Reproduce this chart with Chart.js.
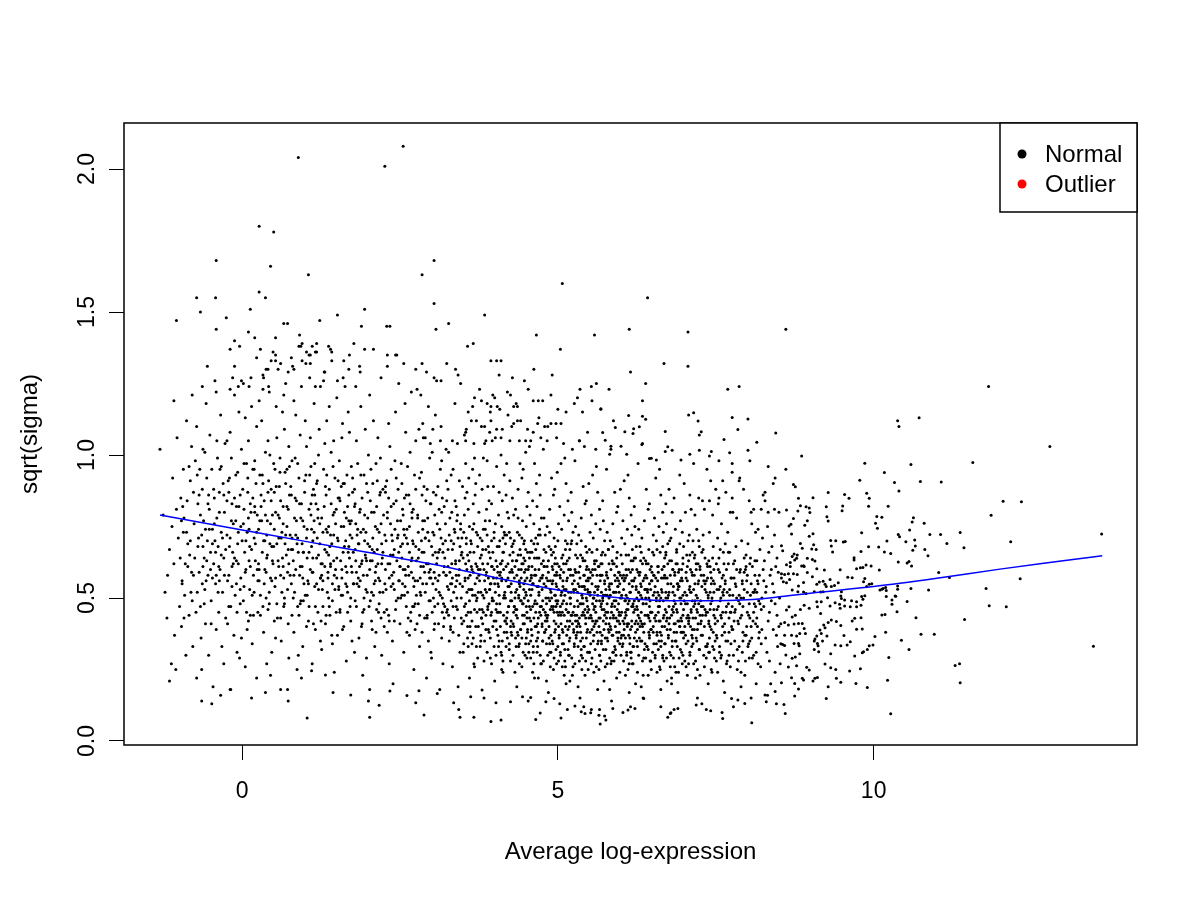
<!DOCTYPE html>
<html>
<head>
<meta charset="utf-8">
<script src="https://cdn.jsdelivr.net/npm/chart.js@4.4.1/dist/chart.umd.min.js"></script>
<style>
  html, body { margin: 0; padding: 0; background: #fff; }
  canvas { display: block; }
</style>
</head>
<body>
<canvas id="saPlot" width="1200" height="900"></canvas>
<script>
// axis ticks
var xTicks = [0, 5, 10];
var yTicks = [0, 0.5, 1.0, 1.5, 2.0];

// genes by average log-expression band, [AveExpr, sqrt(sigma)]
var lowExprGenes = [
  [-1.30,1.02],[-1.08,1.19],[-1.03,1.06],[-0.93,0.95],[-1.15,0.67],[-1.08,0.62],[-1.19,0.43],[-1.07,0.37],[-1.12,0.27],[-1.05,0.25],[-1.15,0.21],[-0.92,0.78],[-0.97,0.85],[-0.87,0.84],[-1.11,0.75],[-1.22,0.52],[-1.18,0.58],[-1.01,0.71],[-0.95,0.55],[-0.99,0.47],[-0.90,0.62],[-0.86,0.69],[-0.82,0.91],[-0.80,1.03],[-0.84,0.44],[-0.78,0.33],[-0.89,0.30],[-0.93,0.73],[-1.04,0.81],[-0.77,0.58],[-0.81,0.52],[-0.76,0.76],[-0.88,1.12],[-0.79,1.21],[-1.25,0.79],[-1.10,0.92],[-0.96,0.40],[-0.83,0.65],
  [-0.74,0.98],[-0.72,1.10],[-0.70,0.83],[-0.69,0.71],[-0.68,0.59],[-0.66,0.47],[-0.65,0.36],[-0.64,0.25],[-0.63,0.88],[-0.62,1.02],[-0.61,0.77],[-0.60,0.64],[-0.59,0.53],[-0.58,0.41],[-0.57,1.18],[-0.56,0.92],[-0.55,0.70],[-0.54,0.58],[-0.53,0.30],[-0.52,0.81],[-0.51,1.07],[-0.50,0.66],[-0.49,0.49],[-0.48,0.95],[-0.47,0.74],[-0.46,0.19],[-0.45,0.62],[-0.44,0.85],[-0.43,1.26],[-0.42,0.55],[-0.41,0.39],[-0.40,0.78],[-0.39,0.99],[-0.38,0.68],[-0.37,0.45],[-0.36,0.87],[-0.35,0.60],[-0.34,1.14],[-0.33,0.73],[-0.32,0.33],[-0.31,0.52],[-0.30,0.90],[-0.29,0.64],[-0.28,0.80],[-0.27,1.04],[-0.26,0.43],[-0.71,0.52],[-0.67,0.95],[-0.58,0.74],[-0.53,0.86],[-0.47,0.57],[-0.43,0.70],[-0.37,0.61],[-0.33,0.96],[-0.29,0.27],[-0.64,0.14],[-0.41,1.22],[-0.55,1.31],[-0.36,0.56],[-0.62,0.68],
  [-0.24,0.72],[-0.22,0.91],[-0.21,0.58],[-0.19,1.08],[-0.18,0.47],[-0.16,0.83],[-0.15,0.66],[-0.13,0.37],[-0.12,1.21],[-0.10,0.77],[-0.09,0.55],[-0.07,0.94],[-0.06,0.62],[-0.04,0.29],[-0.03,0.86],[-0.01,1.02],[0.00,0.70],[0.02,0.49],[0.03,0.81],[0.05,1.13],[0.06,0.60],[0.08,0.39],[0.09,0.92],[0.11,0.74],[0.12,0.53],[0.14,1.27],[0.15,0.67],[0.17,0.85],[0.18,0.44],[0.20,0.98],[0.21,0.63],[0.23,0.22],[0.24,0.79],[-0.23,0.41],[-0.20,0.68],[-0.17,0.99],[-0.14,0.76],[-0.11,0.51],[-0.08,0.31],[-0.05,1.15],[-0.02,0.57],[0.01,0.88],[0.04,0.66],[0.07,0.45],[0.10,1.05],[0.13,0.83],[0.16,0.34],[0.19,0.71],[0.22,0.90],[0.25,0.56],[-0.21,0.87],[-0.16,0.61],[-0.09,0.82],[-0.03,0.48],[0.03,0.97],[0.08,0.73],[0.13,0.61],[0.19,0.52],[0.23,1.10],[-0.18,0.18],[0.05,0.26],[0.15,1.17],[-0.12,0.64],[0.10,0.42],[-0.06,0.73],[0.20,0.80],[-0.24,1.05],[0.02,1.25],[0.17,0.95],[-0.01,0.36],
  [0.26,0.74],[0.28,0.93],[0.29,0.51],[0.31,1.12],[0.32,0.66],[0.34,0.38],[0.35,0.84],[0.37,1.01],[0.38,0.59],[0.40,0.77],[0.41,0.46],[0.43,1.22],[0.44,0.69],[0.46,0.88],[0.47,0.31],[0.49,0.62],[0.50,0.97],[0.52,0.54],[0.53,0.80],[0.55,1.06],[0.56,0.43],[0.58,0.71],[0.59,0.89],[0.61,0.58],[0.62,0.35],[0.64,1.15],[0.65,0.76],[0.67,0.50],[0.68,0.94],[0.70,0.65],[0.71,0.82],[0.73,0.41],[0.74,1.03],[0.27,0.60],[0.30,0.82],[0.33,1.28],[0.36,0.70],[0.39,0.27],[0.42,0.91],[0.45,0.57],[0.48,0.79],[0.51,0.42],[0.54,1.17],[0.57,0.63],[0.60,0.99],[0.63,0.73],[0.66,0.47],[0.69,1.25],[0.72,0.59],[0.75,0.86],[0.29,0.44],[0.35,0.55],[0.41,1.05],[0.47,0.68],[0.53,0.36],[0.59,0.78],[0.65,0.61],[0.71,0.95],[0.33,0.90],[0.39,0.64],[0.45,0.23],[0.51,0.87],[0.57,1.30],[0.63,0.52],[0.69,0.72],[0.74,0.29],[0.31,0.77],[0.43,0.48],[0.55,0.69],[0.67,1.09],[0.37,0.17],[0.49,1.36],[0.61,0.84],[0.73,0.67],[0.27,1.19],
  [0.76,0.72],[0.78,0.55],[0.79,0.98],[0.81,0.63],[0.82,0.38],[0.84,0.85],[0.85,1.14],[0.87,0.69],[0.88,0.47],[0.90,0.92],[0.91,0.58],[0.93,0.78],[0.94,1.24],[0.96,0.33],[0.97,0.66],[0.99,0.87],[1.00,0.51],[1.02,1.03],[1.03,0.74],[1.05,0.42],[1.06,0.81],[1.08,0.60],[1.09,0.96],[1.11,0.27],[1.12,0.70],[1.14,1.18],[1.15,0.54],[1.17,0.83],[1.18,0.64],[1.20,0.45],[1.21,1.00],[1.23,0.76],[1.24,0.57],[0.77,0.89],[0.80,1.31],[0.83,0.52],[0.86,0.77],[0.89,0.30],[0.92,1.07],[0.95,0.61],[0.98,0.75],[1.01,0.93],[1.04,0.56],[1.07,1.27],[1.10,0.68],[1.13,0.88],[1.16,0.39],[1.19,0.71],[1.22,1.09],[1.25,0.62],[0.79,0.44],[0.85,0.60],[0.91,0.83],[0.97,0.49],[1.03,0.64],[1.09,0.79],[1.15,0.97],[1.21,0.53],[0.82,1.19],[0.88,0.71],[0.94,0.22],[1.00,1.12],[1.06,0.47],[1.12,0.59],[1.18,0.90],[1.24,0.35],[0.78,0.67],[0.90,1.38],[1.02,0.40],[1.14,0.73],[0.84,0.99],[0.96,0.57],[1.08,1.06],[1.20,0.81],[1.03,0.08],[0.92,0.48],[1.16,1.36],[0.87,0.25],[1.11,0.86],
  [1.26,0.78],[1.28,0.56],[1.29,0.95],[1.31,0.67],[1.32,0.41],[1.34,1.12],[1.35,0.73],[1.37,0.50],[1.38,0.88],[1.40,0.61],[1.41,1.01],[1.43,0.34],[1.44,0.79],[1.46,0.58],[1.47,0.92],[1.49,0.45],[1.50,1.20],[1.52,0.70],[1.53,0.53],[1.55,0.84],[1.56,0.63],[1.58,1.06],[1.59,0.39],[1.61,0.75],[1.62,0.90],[1.64,0.55],[1.65,0.28],[1.67,0.82],[1.68,1.15],[1.70,0.64],[1.71,0.47],[1.73,0.96],[1.74,0.71],[1.27,0.62],[1.30,1.29],[1.33,0.86],[1.36,0.59],[1.39,0.44],[1.42,0.69],[1.45,1.05],[1.48,0.76],[1.51,0.37],[1.54,0.98],[1.57,0.51],[1.60,0.66],[1.63,1.24],[1.66,0.59],[1.69,0.77],[1.72,0.42],[1.75,0.87],[1.28,0.47],[1.34,0.93],[1.40,0.72],[1.46,0.24],[1.52,0.85],[1.58,0.60],[1.64,0.70],[1.70,1.08],[1.31,1.04],[1.37,0.65],[1.43,0.55],[1.49,0.81],[1.55,0.46],[1.61,1.33],[1.67,0.52],[1.73,0.61],[1.26,0.32],[1.38,1.17],[1.50,0.57],[1.62,0.80],[1.74,0.35],[1.33,0.74],[1.45,0.63],[1.57,0.89],[1.69,0.68],[1.44,0.17],[1.66,0.93],[1.35,0.52],[1.59,1.11],[1.71,0.76],
  [1.76,0.66],[1.78,0.88],[1.79,0.49],[1.81,1.05],[1.82,0.72],[1.84,0.57],[1.85,0.36],[1.87,0.81],[1.88,1.17],[1.90,0.63],[1.91,0.45],[1.93,0.93],[1.94,0.70],[1.96,0.53],[1.97,0.29],[1.99,0.78],[2.00,1.00],[2.02,0.60],[2.03,0.84],[2.05,0.42],[2.06,0.67],[2.08,1.12],[2.09,0.55],[2.11,0.75],[2.12,0.38],[2.14,0.91],[2.15,0.62],[2.17,0.48],[2.18,0.86],[2.20,1.27],[2.21,0.69],[2.23,0.52],[2.24,0.79],[1.77,0.55],[1.80,0.76],[1.83,0.97],[1.86,0.61],[1.89,0.40],[1.92,0.74],[1.95,1.09],[1.98,0.58],[2.01,0.47],[2.04,0.95],[2.07,0.71],[2.10,0.33],[2.13,0.82],[2.16,0.57],[2.19,0.99],[2.22,0.64],[2.25,0.45],[1.78,0.31],[1.84,0.69],[1.90,0.85],[1.96,0.64],[2.02,1.21],[2.08,0.51],[2.14,0.67],[2.20,0.43],[1.81,0.59],[1.87,1.29],[1.93,0.50],[1.99,0.69],[2.05,0.80],[2.11,0.59],[2.17,0.73],[2.23,0.88],[1.79,0.83],[1.91,0.23],[2.03,0.63],[2.15,1.06],[1.85,0.54],[1.97,0.90],[2.09,0.66],[2.21,0.30],[2.00,0.14],[2.18,0.56],[1.88,0.73],[2.12,0.97],[1.94,1.37],[2.06,0.39],
  [2.26,0.72],[2.28,0.53],[2.29,0.91],[2.31,0.62],[2.32,0.44],[2.34,1.03],[2.35,0.76],[2.37,0.58],[2.38,0.35],[2.40,0.83],[2.41,0.67],[2.43,1.15],[2.44,0.49],[2.46,0.71],[2.47,0.88],[2.49,0.56],[2.50,0.41],[2.52,0.97],[2.53,0.64],[2.55,0.79],[2.56,0.31],[2.58,0.60],[2.59,1.08],[2.61,0.74],[2.62,0.52],[2.64,0.86],[2.65,0.66],[2.67,0.45],[2.68,1.22],[2.70,0.70],[2.71,0.57],[2.73,0.93],[2.74,0.39],[2.27,0.60],[2.30,0.80],[2.33,0.27],[2.36,0.95],[2.39,0.55],[2.42,0.74],[2.45,0.63],[2.48,1.25],[2.51,0.50],[2.54,0.69],[2.57,0.85],[2.60,0.47],[2.63,0.61],[2.66,1.01],[2.69,0.78],[2.72,0.54],[2.75,0.68],[2.29,0.46],[2.35,0.65],[2.41,0.42],[2.47,0.72],[2.53,0.90],[2.59,0.58],[2.65,0.37],[2.71,0.81],[2.32,1.11],[2.38,0.70],[2.44,0.84],[2.50,0.61],[2.56,0.74],[2.62,0.96],[2.68,0.59],[2.74,0.48],[2.27,0.87],[2.39,0.20],[2.51,0.77],[2.63,0.43],[2.75,1.05],[2.33,0.57],[2.45,1.35],[2.57,0.51],[2.69,0.64],[2.36,0.82],[2.48,0.66],[2.60,0.71],[2.72,0.25],[2.42,0.98],[2.54,0.55],[2.66,0.83],[2.30,0.38],[2.58,1.18],[2.70,0.47]
];

// denser body of the low-expression band
var lowExprBody = [
  [-0.98,0.64],[-0.94,0.82],[-0.91,0.51],[-0.88,0.73],[-0.84,0.96],[-0.80,0.59],[-0.77,0.87],[-0.73,0.45],[-0.70,0.68],[-0.66,0.79],[-0.63,0.55],[-0.59,1.01],[-0.56,0.63],[-0.52,0.74],[-0.49,0.41],[-0.45,0.88],[-0.42,0.66],[-0.38,0.52],[-0.35,0.95],[-0.31,0.71],[-0.28,0.58],[-0.24,0.84],[-0.21,0.47],[-0.17,0.77],[-0.14,0.62],[-0.10,0.93],[-0.07,0.69],[-0.03,0.53],[-0.96,0.77],[-0.92,0.43],[-0.86,0.61],[-0.82,0.70],[-0.75,0.64],[-0.71,0.93],[-0.64,0.72],[-0.60,0.48],[-0.54,0.83],[-0.50,0.60],[-0.44,0.76],[-0.40,1.05],[-0.33,0.65],[-0.29,0.86],[-0.23,0.56],[-0.19,0.71],[-0.12,0.85],[-0.08,0.45],[-0.02,0.75],[-0.95,0.56],[-0.79,0.49],[-0.68,0.86],[-0.57,0.56],[-0.47,0.69],[-0.36,0.80],[-0.26,0.67],[-0.16,0.54],[-0.05,0.82],[-0.62,0.61],[-0.41,0.58],[-0.20,0.92],[-0.09,0.63],
  [0.02,0.76],[0.05,0.59],[0.09,0.87],[0.12,0.68],[0.16,0.51],[0.19,0.95],[0.23,0.73],[0.26,0.62],[0.30,0.86],[0.33,0.47],[0.37,0.79],[0.40,0.65],[0.44,1.00],[0.47,0.56],[0.51,0.74],[0.54,0.89],[0.58,0.61],[0.61,0.43],[0.65,0.82],[0.68,0.69],[0.72,0.53],[0.75,0.96],[0.79,0.71],[0.82,0.58],[0.86,0.84],[0.89,0.66],[0.93,0.49],[0.96,0.77],[0.99,0.91],[0.03,0.54],[0.07,0.97],[0.11,0.63],[0.14,0.80],[0.18,0.58],[0.21,0.69],[0.25,0.45],[0.28,0.77],[0.32,0.93],[0.36,0.60],[0.39,0.72],[0.43,0.52],[0.46,0.84],[0.50,0.68],[0.53,0.57],[0.57,0.79],[0.60,0.94],[0.64,0.64],[0.67,0.48],[0.71,0.75],[0.74,0.62],[0.78,0.86],[0.81,0.50],[0.85,0.72],[0.88,0.97],[0.92,0.61],[0.95,0.69],[0.98,0.55],[0.06,0.70],[0.13,0.44],[0.20,0.82],[0.27,0.56],[0.34,0.70],[0.41,0.87],[0.48,0.63],[0.55,0.48],[0.62,0.71],[0.69,0.90],[0.76,0.58],[0.83,0.78],[0.90,0.44],[0.97,0.66],[0.10,0.78],[0.24,0.60],[0.38,0.50],[0.52,0.95],[0.66,0.57],[0.80,0.67],[0.94,0.83],[0.45,0.76],[0.73,0.81],
  [1.02,0.71],[1.05,0.55],[1.09,0.83],[1.12,0.64],[1.16,0.47],[1.19,0.91],[1.23,0.69],[1.26,0.58],[1.30,0.82],[1.33,0.44],[1.37,0.75],[1.40,0.62],[1.44,0.96],[1.47,0.53],[1.51,0.71],[1.54,0.85],[1.58,0.57],[1.61,0.40],[1.65,0.78],[1.68,0.66],[1.72,0.50],[1.75,0.92],[1.79,0.67],[1.82,0.55],[1.86,0.80],[1.89,0.62],[1.93,0.46],[1.96,0.73],[1.99,0.87],[1.03,0.51],[1.07,0.93],[1.11,0.59],[1.14,0.77],[1.18,0.55],[1.21,0.65],[1.25,0.42],[1.28,0.73],[1.32,0.89],[1.36,0.57],[1.39,0.68],[1.43,0.49],[1.46,0.80],[1.50,0.64],[1.53,0.54],[1.57,0.75],[1.60,0.90],[1.64,0.61],[1.67,0.45],[1.71,0.72],[1.74,0.59],[1.78,0.82],[1.81,0.47],[1.85,0.69],[1.88,0.93],[1.92,0.58],[1.95,0.65],[1.98,0.52],[1.06,0.66],[1.13,0.41],[1.20,0.78],[1.27,0.53],[1.34,0.66],[1.41,0.83],[1.48,0.60],[1.55,0.45],[1.62,0.68],[1.69,0.86],[1.76,0.55],[1.83,0.74],[1.90,0.41],[1.97,0.63],[1.10,0.74],[1.24,0.57],[1.38,0.47],[1.52,0.91],[1.66,0.54],[1.80,0.63],[1.94,0.79],[1.45,0.72],[1.73,0.77],[1.15,0.86],[1.31,0.61],[1.59,0.51],[1.87,0.56],[1.42,0.37],
  [2.02,0.68],[2.05,0.52],[2.09,0.80],[2.12,0.61],[2.16,0.45],[2.19,0.87],[2.23,0.66],[2.26,0.55],[2.30,0.78],[2.33,0.42],[2.37,0.72],[2.40,0.59],[2.44,0.92],[2.47,0.50],[2.51,0.68],[2.54,0.81],[2.58,0.54],[2.61,0.38],[2.65,0.75],[2.68,0.63],[2.72,0.47],[2.75,0.88],[2.79,0.64],[2.82,0.52],[2.86,0.77],[2.89,0.59],[2.93,0.43],[2.96,0.70],[2.99,0.83],[3.03,0.50],[3.06,0.66],[3.10,0.56],[3.13,0.74],[3.17,0.45],[3.20,0.61],[3.24,0.84],[3.27,0.53],[3.31,0.70],[3.34,0.47],[3.38,0.62],[3.41,0.79],[3.45,0.55],[3.48,0.66],[2.03,0.49],[2.07,0.90],[2.11,0.56],[2.14,0.74],[2.18,0.52],[2.21,0.62],[2.25,0.40],[2.28,0.70],[2.32,0.85],[2.36,0.54],[2.39,0.65],[2.43,0.46],[2.46,0.77],[2.50,0.61],[2.53,0.51],[2.57,0.72],[2.60,0.86],[2.64,0.58],[2.67,0.42],[2.71,0.69],[2.74,0.56],[2.78,0.78],[2.81,0.44],[2.85,0.66],[2.88,0.89],[2.92,0.55],[2.95,0.62],[2.98,0.49],[3.02,0.73],[3.05,0.41],[3.09,0.64],[3.12,0.52],[3.16,0.80],[3.19,0.48],[3.23,0.58],[3.26,0.67],[3.30,0.39],[3.33,0.57],[3.37,0.73],[3.40,0.50],[3.44,0.63],[3.47,0.43],[2.06,0.63],[2.20,0.76],[2.34,0.62],[2.48,0.56],[2.62,0.69],[2.76,0.51],[2.90,0.71],[3.04,0.59],[3.18,0.66],[3.32,0.55],[3.46,0.74],[2.13,0.46],[2.41,0.53],[2.69,0.80],[2.97,0.57],[3.25,0.46],[3.39,0.58],[2.27,0.89],[2.55,0.60],[2.83,0.61]
];

var midExprGenes = [
  [2.76,0.63],[2.78,0.79],[2.79,0.48],[2.81,0.92],[2.82,0.57],[2.84,0.70],[2.85,0.38],[2.87,1.06],[2.88,0.66],[2.90,0.52],[2.91,0.84],[2.93,0.44],[2.94,0.73],[2.96,0.59],[2.97,0.99],[2.99,0.31],[3.00,0.68],[3.02,0.55],[3.03,0.87],[3.05,0.47],[3.06,1.14],[3.08,0.62],[3.09,0.76],[3.11,0.41],[3.12,0.58],[3.14,0.95],[3.15,0.71],[3.17,0.50],[3.18,0.27],[3.20,0.82],[3.21,0.64],[3.23,1.02],[3.24,0.45],[2.77,0.41],[2.80,0.67],[2.83,1.21],[2.86,0.55],[2.89,0.77],[2.92,0.62],[2.95,0.35],[2.98,0.83],[3.01,0.45],[3.04,0.72],[3.07,0.53],[3.10,0.89],[3.13,0.67],[3.16,0.36],[3.19,0.59],[3.22,0.76],[3.25,0.54],[2.78,0.56],[2.84,0.94],[2.90,0.71],[2.96,0.49],[3.02,0.65],[3.08,1.26],[3.14,0.51],[3.20,0.43],[2.81,0.33],[2.87,0.61],[2.93,0.88],[2.99,0.57],[3.05,0.79],[3.11,0.66],[3.17,0.85],[3.23,0.58],[2.80,1.09],[2.92,0.22],[3.04,0.39],[3.16,0.98],[2.86,0.74],[2.98,0.60],[3.10,0.48],[3.22,0.70],[2.95,1.17],[3.07,0.86],[3.19,0.40],[2.83,0.51],[3.13,0.18],[3.01,1.01],[2.89,0.43],[3.24,0.91],[3.06,0.57],[2.94,0.78],[3.18,0.69],[2.79,0.73],[3.12,0.81],[3.00,0.29],[3.21,0.47],[2.85,0.86],
  [3.26,0.61],[3.27,0.44],[3.29,0.78],[3.30,0.55],[3.31,0.93],[3.33,0.67],[3.34,0.38],[3.35,0.52],[3.37,0.84],[3.38,0.63],[3.39,0.47],[3.41,1.04],[3.42,0.71],[3.43,0.58],[3.45,0.31],[3.46,0.76],[3.47,0.50],[3.49,0.89],[3.50,0.64],[3.51,0.42],[3.53,0.57],[3.54,0.97],[3.55,0.69],[3.57,0.36],[3.58,0.81],[3.59,0.53],[3.61,0.66],[3.62,0.45],[3.63,1.12],[3.65,0.74],[3.66,0.59],[3.67,0.27],[3.69,0.86],[3.70,0.62],[3.71,0.49],[3.73,0.72],[3.74,0.40],[3.26,0.88],[3.28,0.35],[3.32,0.62],[3.36,0.74],[3.40,0.56],[3.44,0.91],[3.48,0.41],[3.52,0.79],[3.56,0.60],[3.60,0.22],[3.64,0.53],[3.68,0.99],[3.72,0.57],[3.75,0.80],[3.27,1.01],[3.31,0.49],[3.35,0.69],[3.39,0.82],[3.43,0.37],[3.47,0.65],[3.51,0.73],[3.55,0.44],[3.59,0.92],[3.63,0.61],[3.67,0.76],[3.71,0.33],[3.29,0.59],[3.33,0.26],[3.37,1.18],[3.41,0.46],[3.45,0.68],[3.49,0.54],[3.53,0.85],[3.57,0.65],[3.61,0.40],[3.65,0.95],[3.69,0.51],[3.73,0.68],[3.28,0.72],[3.36,0.43],[3.44,0.60],[3.52,1.07],[3.60,0.75],[3.68,0.46],[3.34,0.95],[3.42,0.19],[3.50,0.31],[3.58,0.57],[3.66,0.83],[3.74,0.60],[3.30,0.40],[3.46,1.25],[3.62,0.70],[3.38,0.54],[3.54,0.48],[3.70,0.90],[3.40,0.77],[3.56,0.87],[3.72,0.50],[3.48,0.71],[3.64,0.34],[3.32,0.80],[3.58,1.15],
  [3.76,0.56],[3.77,0.71],[3.79,0.43],[3.80,0.88],[3.81,0.62],[3.83,0.50],[3.84,0.35],[3.85,0.77],[3.87,0.59],[3.88,0.98],[3.89,0.46],[3.91,0.66],[3.92,0.53],[3.93,0.29],[3.95,0.83],[3.96,0.61],[3.97,0.40],[3.99,0.73],[4.00,0.55],[4.01,1.06],[4.03,0.48],[4.04,0.68],[4.05,0.37],[4.07,0.87],[4.08,0.58],[4.09,0.45],[4.11,0.75],[4.12,0.63],[4.13,0.24],[4.15,0.93],[4.16,0.52],[4.17,0.69],[4.19,0.41],[4.20,0.80],[4.21,0.57],[4.23,0.34],[4.24,0.65],[3.76,0.93],[3.78,0.52],[3.82,0.74],[3.86,0.44],[3.90,0.57],[3.94,1.12],[3.98,0.49],[4.02,0.63],[4.06,0.79],[4.10,0.31],[4.14,0.60],[4.18,0.86],[4.22,0.47],[4.25,0.71],[3.78,0.37],[3.82,0.99],[3.86,0.67],[3.90,0.39],[3.94,0.55],[3.98,0.89],[4.02,0.42],[4.06,0.54],[4.10,1.00],[4.14,0.44],[4.18,0.61],[4.22,0.78],[3.79,0.65],[3.83,0.28],[3.87,0.81],[3.91,0.48],[3.95,0.70],[3.99,0.33],[4.03,0.96],[4.07,0.51],[4.11,0.56],[4.15,0.38],[4.19,0.72],[4.23,0.54],[3.80,0.46],[3.88,0.72],[3.96,0.50],[4.04,0.45],[4.12,0.84],[4.20,0.36],[3.84,1.04],[3.92,0.77],[4.00,0.21],[4.08,0.70],[4.16,0.42],[4.24,0.91],[3.77,0.60],[3.93,0.64],[4.09,0.62],[4.21,1.14],[3.85,0.53],[4.01,0.76],[4.17,0.50],[3.89,0.89],[4.05,0.59],[4.13,0.66],[3.97,1.21],[4.25,0.40],[3.81,0.41],[4.11,0.30],[3.95,0.45],[4.07,0.35],[4.19,0.97],[3.91,0.84],[4.03,0.57],[3.83,0.15],[4.15,0.73],[3.99,0.60],
  [4.26,0.52],[4.27,0.68],[4.29,0.41],[4.30,0.79],[4.31,0.57],[4.33,0.46],[4.34,0.33],[4.35,0.63],[4.37,0.88],[4.38,0.50],[4.39,0.72],[4.41,0.39],[4.42,0.60],[4.43,0.26],[4.45,0.95],[4.46,0.55],[4.47,0.44],[4.49,0.67],[4.50,0.36],[4.51,0.82],[4.53,0.49],[4.54,0.61],[4.55,1.03],[4.57,0.42],[4.58,0.70],[4.59,0.53],[4.61,0.31],[4.62,0.76],[4.63,0.58],[4.65,0.45],[4.66,0.90],[4.67,0.64],[4.69,0.38],[4.70,0.51],[4.71,0.74],[4.73,0.27],[4.74,0.62],[4.26,0.38],[4.28,0.85],[4.32,0.61],[4.36,0.43],[4.40,0.54],[4.44,0.77],[4.48,0.30],[4.52,0.66],[4.56,0.56],[4.60,0.84],[4.64,0.40],[4.68,0.69],[4.72,0.47],[4.75,0.57],[4.27,1.10],[4.31,0.47],[4.35,0.53],[4.39,0.34],[4.43,0.71],[4.47,0.59],[4.51,0.43],[4.55,0.64],[4.59,0.37],[4.63,0.97],[4.67,0.48],[4.71,0.56],[4.28,0.59],[4.32,0.24],[4.36,0.73],[4.40,0.97],[4.44,0.48],[4.48,0.63],[4.52,0.39],[4.56,0.79],[4.60,0.47],[4.64,0.60],[4.68,0.33],[4.72,0.86],[4.29,0.66],[4.37,0.37],[4.45,0.41],[4.53,0.87],[4.61,0.55],[4.69,0.72],[4.33,0.81],[4.41,0.65],[4.49,0.52],[4.57,0.29],[4.65,0.67],[4.73,0.44],[4.30,0.45],[4.38,0.60],[4.46,0.69],[4.54,0.34],[4.62,0.43],[4.70,0.64],[4.34,1.18],[4.42,0.49],[4.50,0.75],[4.58,0.58],[4.66,0.35],[4.74,0.78],[4.35,0.19],[4.51,0.57],[4.67,0.82],[4.43,0.92],[4.59,0.66],[4.75,0.41],[4.31,0.70],[4.47,0.50],[4.63,0.22],[4.55,0.47],[4.39,0.56],[4.71,0.93],[4.27,0.49],[4.61,1.08],[4.45,0.62],[4.53,0.14],[4.69,0.54],[4.37,0.78],[4.57,0.51],[4.49,1.01],
  [4.76,0.49],[4.77,0.63],[4.79,0.38],[4.80,0.72],[4.81,0.54],[4.83,0.43],[4.84,0.30],[4.85,0.59],[4.87,0.81],[4.88,0.46],[4.89,0.67],[4.91,0.35],[4.92,0.56],[4.93,0.25],[4.95,0.88],[4.96,0.51],[4.97,0.41],[4.99,0.62],[5.00,0.33],[5.01,0.76],[5.03,0.45],[5.04,0.57],[5.05,0.97],[5.07,0.39],[5.08,0.65],[5.09,0.49],[5.11,0.28],[5.12,0.70],[5.13,0.53],[5.15,0.42],[5.16,0.84],[5.17,0.60],[5.19,0.36],[5.20,0.48],[5.21,0.69],[5.23,0.23],[5.24,0.58],[4.76,0.35],[4.78,0.78],[4.82,0.57],[4.86,0.40],[4.90,0.50],[4.94,0.71],[4.98,0.27],[5.02,0.61],[5.06,0.52],[5.10,0.79],[5.14,0.37],[5.18,0.64],[5.22,0.44],[5.25,0.53],[4.77,1.02],[4.81,0.44],[4.85,0.50],[4.89,0.31],[4.93,0.66],[4.97,0.55],[5.01,0.40],[5.05,0.60],[5.09,0.34],[5.13,0.90],[5.17,0.45],[5.21,0.52],[4.78,0.55],[4.82,0.21],[4.86,0.68],[4.90,0.92],[4.94,0.45],[4.98,0.59],[5.02,0.36],[5.06,0.74],[5.10,0.44],[5.14,0.56],[5.18,0.30],[5.22,0.80],[4.79,0.61],[4.87,0.34],[4.95,0.38],[5.03,0.82],[5.11,0.51],[5.19,0.67],[4.83,0.75],[4.91,0.61],[4.99,0.48],[5.07,0.26],[5.15,0.63],[5.23,0.41],[4.80,0.42],[4.88,0.56],[4.96,0.64],[5.04,0.31],[5.12,0.40],[5.20,0.60],[4.84,1.10],[4.92,0.46],[5.00,0.70],[5.08,0.54],[5.16,0.32],[5.24,0.73],[4.85,0.17],[5.01,0.53],[5.17,0.77],[4.93,0.86],[5.09,0.62],[5.25,0.38],[4.81,0.66],[4.97,0.47],[5.13,0.20],[5.05,0.44],[4.89,0.52],[5.21,0.87],[4.77,0.46],[5.11,0.99],[4.95,0.58],[5.03,0.13],[5.19,0.50],[4.87,0.73],[5.07,0.48],[4.99,0.94]
];

var coreExprGenes = [
  [5.26,0.47],[5.27,0.60],[5.29,0.36],[5.30,0.69],[5.31,0.52],[5.33,0.41],[5.34,0.28],[5.35,0.57],[5.37,0.78],[5.38,0.44],[5.39,0.64],[5.41,0.33],[5.42,0.54],[5.43,0.23],[5.45,0.84],[5.46,0.49],[5.47,0.39],[5.49,0.60],[5.50,0.31],[5.51,0.73],[5.53,0.43],[5.54,0.55],[5.55,0.93],[5.57,0.37],[5.58,0.62],[5.59,0.47],[5.61,0.26],[5.62,0.67],[5.63,0.51],[5.65,0.40],[5.66,0.81],[5.67,0.58],[5.69,0.34],[5.70,0.46],[5.71,0.66],[5.73,0.21],[5.74,0.56],[5.26,0.33],[5.28,0.75],[5.32,0.55],[5.36,0.38],[5.40,0.48],[5.44,0.68],[5.48,0.25],[5.52,0.59],[5.56,0.50],[5.60,0.76],[5.64,0.35],[5.68,0.62],[5.72,0.42],[5.75,0.51],[5.27,0.98],[5.31,0.42],[5.35,0.48],[5.39,0.29],[5.43,0.63],[5.47,0.53],[5.51,0.38],[5.55,0.58],[5.59,0.32],[5.63,0.87],[5.67,0.43],[5.71,0.50],[5.28,0.53],[5.32,0.19],[5.36,0.65],[5.40,0.89],[5.44,0.43],[5.48,0.57],[5.52,0.34],[5.56,0.71],[5.60,0.42],[5.64,0.54],[5.68,0.28],[5.72,0.77],[5.29,0.59],[5.37,0.32],[5.45,0.36],[5.53,0.79],[5.61,0.49],[5.69,0.65],[5.33,0.72],[5.41,0.58],[5.49,0.46],[5.57,0.24],[5.65,0.61],[5.73,0.39],[5.30,0.40],[5.38,0.54],[5.46,0.61],[5.54,0.29],[5.62,0.38],[5.70,0.58],[5.34,1.05],[5.42,0.44],[5.50,0.67],[5.58,0.52],[5.66,0.30],[5.74,0.70],[5.35,0.15],[5.51,0.51],[5.67,0.74],[5.43,0.83],[5.59,0.60],[5.75,0.36],[5.31,0.64],[5.47,0.45],[5.63,0.18],[5.55,0.42],[5.39,0.50],[5.71,0.84],[5.27,0.44],[5.61,0.96],[5.45,0.56],[5.53,0.11],[5.69,0.48],[5.37,0.70],[5.57,0.46],[5.49,0.90],[5.65,0.09],[5.41,0.12],
  [5.76,0.45],[5.77,0.58],[5.79,0.35],[5.80,0.67],[5.81,0.50],[5.83,0.40],[5.84,0.27],[5.85,0.55],[5.87,0.76],[5.88,0.43],[5.89,0.62],[5.91,0.32],[5.92,0.52],[5.93,0.22],[5.95,0.82],[5.96,0.48],[5.97,0.38],[5.99,0.58],[6.00,0.30],[6.01,0.71],[6.03,0.42],[6.04,0.53],[6.05,0.91],[6.07,0.36],[6.08,0.60],[6.09,0.46],[6.11,0.25],[6.12,0.65],[6.13,0.49],[6.15,0.39],[6.16,0.79],[6.17,0.56],[6.19,0.33],[6.20,0.45],[6.21,0.64],[6.23,0.20],[6.24,0.54],[5.76,0.32],[5.78,0.73],[5.82,0.53],[5.86,0.37],[5.90,0.47],[5.94,0.66],[5.98,0.24],[6.02,0.57],[6.06,0.49],[6.10,0.74],[6.14,0.34],[6.18,0.60],[6.22,0.41],[6.25,0.50],[5.77,0.95],[5.81,0.41],[5.85,0.47],[5.89,0.28],[5.93,0.61],[5.97,0.52],[6.01,0.37],[6.05,0.56],[6.09,0.31],[6.13,0.85],[6.17,0.42],[6.21,0.49],[5.78,0.51],[5.82,0.18],[5.86,0.63],[5.90,0.87],[5.94,0.42],[5.98,0.55],[6.02,0.33],[6.06,0.69],[6.10,0.41],[6.14,0.52],[6.18,0.27],[6.22,0.75],[5.79,0.57],[5.87,0.31],[5.95,0.35],[6.03,0.77],[6.11,0.48],[6.19,0.63],[5.83,0.70],[5.91,0.56],[5.99,0.44],[6.07,0.23],[6.15,0.59],[6.23,0.38],[5.80,0.39],[5.88,0.52],[5.96,0.59],[6.04,0.28],[6.12,0.37],[6.20,0.56],[5.84,1.02],[5.92,0.43],[6.00,0.65],[6.08,0.51],[6.16,0.29],[6.24,0.68],[5.85,0.14],[6.01,0.50],[6.17,0.72],[5.93,0.80],[6.09,0.58],[6.25,0.35],[5.81,0.62],[5.97,0.44],[6.13,0.17],[6.05,0.41],[5.89,0.49],[6.21,0.82],[5.77,0.43],[6.11,0.93],[5.95,0.54],[6.03,0.10],[6.19,0.47],[5.87,0.68],[6.07,0.45],[5.99,0.88],[6.15,0.12],
  [6.26,0.46],[6.27,0.59],[6.29,0.36],[6.30,0.68],[6.31,0.51],[6.33,0.41],[6.34,0.28],[6.35,0.56],[6.37,0.77],[6.38,0.44],[6.39,0.63],[6.41,0.33],[6.42,0.53],[6.43,0.23],[6.45,0.83],[6.46,0.49],[6.47,0.39],[6.49,0.59],[6.50,0.31],[6.51,0.72],[6.53,0.43],[6.54,0.54],[6.55,0.92],[6.57,0.37],[6.58,0.61],[6.59,0.47],[6.61,0.26],[6.62,0.66],[6.63,0.50],[6.65,0.40],[6.66,0.80],[6.67,0.57],[6.69,0.34],[6.70,0.46],[6.71,0.65],[6.73,0.21],[6.74,0.55],[6.26,0.33],[6.28,0.74],[6.32,0.54],[6.36,0.38],[6.40,0.48],[6.44,0.67],[6.48,0.25],[6.52,0.58],[6.56,0.50],[6.60,0.75],[6.64,0.35],[6.68,0.61],[6.72,0.42],[6.75,0.51],[6.27,0.97],[6.31,0.42],[6.35,0.48],[6.39,0.29],[6.43,0.62],[6.47,0.53],[6.51,0.38],[6.55,0.57],[6.59,0.32],[6.63,0.86],[6.67,0.43],[6.71,0.50],[6.28,0.52],[6.32,0.19],[6.36,0.64],[6.40,0.88],[6.44,0.43],[6.48,0.56],[6.52,0.34],[6.56,0.70],[6.60,0.42],[6.64,0.53],[6.68,0.28],[6.72,0.76],[6.29,0.58],[6.37,0.32],[6.45,0.36],[6.53,0.78],[6.61,0.49],[6.69,0.64],[6.33,0.71],[6.41,0.57],[6.49,0.45],[6.57,0.24],[6.65,0.60],[6.73,0.39],[6.30,0.40],[6.38,0.53],[6.46,0.60],[6.54,0.29],[6.62,0.38],[6.70,0.57],[6.34,1.04],[6.42,0.44],[6.50,0.66],[6.58,0.52],[6.66,0.30],[6.74,0.69],[6.35,0.15],[6.51,0.51],[6.67,0.73],[6.43,0.81],[6.59,0.59],[6.75,0.36],[6.31,0.63],[6.47,0.45],[6.63,0.18],[6.55,0.42],[6.39,0.50],[6.71,0.83],[6.27,0.44],[6.61,0.95],[6.45,0.55],
  [6.76,0.52],[6.78,0.39],[6.79,0.71],[6.80,0.44],[6.82,0.60],[6.83,0.29],[6.84,0.85],[6.86,0.48],[6.87,0.35],[6.88,0.66],[6.90,0.55],[6.91,0.24],[6.92,0.42],[6.94,0.77],[6.95,0.50],[6.96,0.31],[6.98,0.62],[6.99,0.46],[7.00,0.90],[7.02,0.37],[7.03,0.57],[7.04,0.43],[7.06,0.70],[7.07,0.27],[7.08,0.53],[7.10,0.40],[7.11,0.81],[7.12,0.59],[7.14,0.34],[7.15,0.47],[7.16,0.64],[7.18,0.22],[7.19,0.51],[7.20,0.74],[7.22,0.41],[7.23,0.56],[7.24,0.32],[6.77,0.63],[6.81,0.33],[6.85,0.58],[6.89,0.45],[6.93,0.69],[6.97,0.38],[7.01,0.52],[7.05,0.61],[7.09,0.30],[7.13,0.49],[7.17,0.79],[7.21,0.45],[7.25,0.60],[6.77,0.43],[6.81,0.80],[6.85,0.26],[6.89,0.55],[6.93,0.40],[6.97,0.73],[7.01,0.28],[7.05,0.48],[7.09,0.65],[7.13,0.36],[7.17,0.55],[7.21,0.25],[7.24,0.68],[6.78,0.58],[6.83,0.47],[6.88,0.38],[6.93,0.93],[6.98,0.51],[7.03,0.34],[7.08,0.72],[7.13,0.58],[7.18,0.43],[7.23,0.85],[6.80,0.20],[6.86,0.74],[6.92,0.60],[6.98,0.30],[7.04,0.65],[7.10,0.52],[7.16,0.39],[7.22,0.62],[6.76,0.88],[6.84,0.41],[6.91,0.54],[6.99,0.68],[7.06,0.44],[7.14,0.70],[7.20,0.35],[6.79,0.30],[6.87,0.62],[6.95,0.43],[7.02,0.80],[7.11,0.46],[7.19,0.60],[6.82,0.52],[6.96,0.57],[7.07,0.41],[7.15,0.97],[7.25,0.44],[6.90,0.17],[7.00,0.49],[7.12,0.33],[6.94,0.56],[7.05,0.23],[7.17,0.48],[6.84,0.11],[7.09,0.86],[6.99,0.38],[7.21,0.15],
  [7.26,0.49],[7.28,0.66],[7.29,0.37],[7.31,0.56],[7.32,0.81],[7.34,0.44],[7.35,0.29],[7.37,0.61],[7.38,0.51],[7.40,0.73],[7.41,0.40],[7.43,0.57],[7.44,0.24],[7.46,0.68],[7.47,0.46],[7.49,0.35],[7.50,0.88],[7.52,0.53],[7.53,0.42],[7.55,0.64],[7.56,0.31],[7.58,0.50],[7.59,0.76],[7.61,0.45],[7.62,0.58],[7.64,0.38],[7.65,0.69],[7.67,0.27],[7.68,0.52],[7.70,0.62],[7.71,0.43],[7.73,0.80],[7.74,0.34],[7.27,0.42],[7.30,0.72],[7.33,0.55],[7.36,0.33],[7.39,0.63],[7.42,0.48],[7.45,0.79],[7.48,0.55],[7.51,0.28],[7.54,0.47],[7.57,0.67],[7.60,0.37],[7.63,0.53],[7.66,0.45],[7.69,0.73],[7.72,0.51],[7.75,0.40],[7.27,0.58],[7.32,0.26],[7.37,0.45],[7.42,0.91],[7.47,0.60],[7.52,0.36],[7.57,0.54],[7.62,0.21],[7.67,0.60],[7.72,0.66],[7.29,0.84],[7.35,0.52],[7.41,0.61],[7.47,0.32],[7.53,0.71],[7.59,0.43],[7.65,0.55],[7.71,0.30],[7.30,0.47],[7.38,0.20],[7.46,0.56],[7.54,0.83],[7.62,0.66],[7.70,0.48],[7.33,0.64],[7.43,0.39],[7.51,0.62],[7.61,0.52],[7.69,0.35],[7.36,0.95],[7.49,0.43],[7.58,0.29],[7.74,0.57],[7.40,0.31],[7.56,0.59],[7.66,0.87],[7.44,0.50],[7.64,0.17],[7.28,0.13],[7.53,0.24],[7.73,0.45],[7.39,0.41],[7.60,0.10],
  [7.76,0.47],[7.78,0.62],[7.80,0.35],[7.81,0.55],[7.83,0.78],[7.85,0.42],[7.86,0.28],[7.88,0.59],[7.90,0.50],[7.91,0.70],[7.93,0.38],[7.95,0.53],[7.96,0.23],[7.98,0.65],[8.00,0.45],[8.01,0.33],[8.03,0.84],[8.05,0.51],[8.06,0.40],[8.08,0.61],[8.10,0.30],[8.11,0.48],[8.13,0.73],[8.15,0.43],[8.16,0.56],[8.18,0.36],[8.20,0.67],[8.21,0.26],[8.23,0.50],[8.25,0.60],[7.77,0.39],[7.82,0.68],[7.87,0.51],[7.92,0.31],[7.97,0.60],[8.02,0.44],[8.07,0.76],[8.12,0.53],[8.17,0.27],[8.22,0.46],[7.79,0.57],[7.84,0.25],[7.89,0.43],[7.94,0.88],[7.99,0.56],[8.04,0.35],[8.09,0.52],[8.14,0.20],[8.19,0.58],[8.24,0.71],[7.77,0.80],[7.86,0.49],[7.95,0.64],[8.04,0.62],[8.13,0.41],[8.22,0.34],[7.80,0.45],[7.90,0.19],[8.00,0.58],[8.10,0.81],[8.20,0.48],[7.83,0.60],[7.93,0.47],[8.03,0.29],[8.12,0.63],[8.23,0.39],[7.88,0.92],[8.06,0.15],[8.17,0.74],[7.98,0.37],[7.78,0.12],[7.92,0.55],[8.15,0.52],[8.01,0.69],
  [8.26,0.47],[8.27,0.63],[8.29,0.36],[8.30,0.54],[8.32,0.75],[8.33,0.42],[8.35,0.28],[8.36,0.58],[8.38,0.49],[8.39,0.68],[8.41,0.39],[8.42,0.52],[8.44,0.24],[8.45,0.61],[8.47,0.44],[8.48,0.33],[8.50,0.80],[8.51,0.50],[8.53,0.41],[8.54,0.57],[8.28,0.84],[8.31,0.31],[8.34,0.66],[8.37,0.20],[8.40,0.55],[8.43,0.72],[8.46,0.37],[8.49,0.59],[8.52,0.27],[8.29,0.52],[8.35,0.45],[8.41,0.90],[8.47,0.64],[8.53,0.34],[8.32,0.16],[8.44,0.48],[8.50,0.40],[8.38,0.60],[8.26,0.56],[8.46,0.13]
];

// densest part of the cloud, around the minimum of the trend
var coreBody = [
  [3.52,0.47],[3.58,0.33],[3.61,0.58],[3.55,0.71],[3.64,0.42],[3.69,0.55],[3.73,0.29],[3.77,0.64],[3.81,0.51],[3.86,0.39],[3.90,0.68],[3.94,0.44],[3.98,0.57],[3.54,0.62],[3.60,0.49],[3.66,0.36],[3.71,0.73],[3.76,0.46],[3.83,0.60],[3.88,0.31],[3.92,0.53],[3.97,0.66],[3.57,0.40],[3.63,0.69],[3.68,0.26],[3.74,0.52],[3.79,0.43],[3.85,0.74],[3.91,0.38],[3.96,0.49],[3.53,0.56],[3.59,0.63],[3.65,0.51],[3.72,0.45],[3.78,0.35],[3.84,0.56],[3.89,0.47],[3.95,0.61],[3.51,0.34],[3.62,0.53],[3.67,0.66],[3.75,0.58],[3.80,0.70],[3.87,0.52],[3.93,0.36],[3.99,0.42],[3.56,0.52],[3.70,0.40],[3.82,0.45],[3.95,0.27],[3.64,0.60],[3.77,0.33],[3.89,0.62],[3.58,0.45],[3.72,0.61],[3.86,0.58],[3.99,0.71],[3.61,0.38],[3.81,0.67],[3.93,0.55],
  [4.02,0.46],[4.06,0.33],[4.09,0.59],[4.13,0.71],[4.17,0.42],[4.21,0.54],[4.25,0.28],[4.28,0.63],[4.32,0.50],[4.36,0.38],[4.40,0.67],[4.44,0.44],[4.48,0.56],[4.04,0.61],[4.08,0.48],[4.12,0.35],[4.16,0.72],[4.20,0.45],[4.24,0.59],[4.29,0.30],[4.33,0.52],[4.37,0.65],[4.41,0.39],[4.45,0.48],[4.49,0.34],[4.03,0.39],[4.07,0.68],[4.11,0.25],[4.15,0.51],[4.19,0.43],[4.23,0.73],[4.27,0.37],[4.31,0.47],[4.35,0.58],[4.39,0.27],[4.43,0.62],[4.47,0.41],[4.05,0.55],[4.10,0.62],[4.14,0.50],[4.18,0.33],[4.22,0.47],[4.26,0.55],[4.30,0.40],[4.34,0.44],[4.38,0.51],[4.42,0.57],[4.46,0.64],[4.50,0.47],[4.01,0.52],[4.09,0.40],[4.13,0.28],[4.21,0.62],[4.25,0.49],[4.29,0.69],[4.33,0.36],[4.41,0.49],[4.45,0.31],[4.49,0.60],[4.06,0.45],[4.14,0.66],[4.18,0.56],[4.26,0.42],[4.34,0.63],[4.38,0.33],[4.46,0.53],[4.02,0.30],[4.11,0.57],[4.19,0.38],[4.27,0.60],[4.35,0.46],[4.43,0.36],[4.47,0.70],[4.23,0.32],[4.39,0.55],
  [4.51,0.45],[4.54,0.31],[4.58,0.57],[4.62,0.69],[4.66,0.40],[4.70,0.52],[4.74,0.27],[4.78,0.61],[4.82,0.48],[4.86,0.36],[4.90,0.65],[4.94,0.42],[4.98,0.54],[4.53,0.60],[4.57,0.46],[4.61,0.33],[4.65,0.71],[4.69,0.43],[4.73,0.57],[4.77,0.28],[4.81,0.50],[4.85,0.63],[4.89,0.37],[4.93,0.47],[4.97,0.32],[4.52,0.38],[4.56,0.66],[4.60,0.24],[4.64,0.49],[4.68,0.41],[4.72,0.72],[4.76,0.35],[4.80,0.45],[4.84,0.56],[4.88,0.26],[4.92,0.60],[4.96,0.39],[4.55,0.53],[4.59,0.61],[4.63,0.48],[4.67,0.31],[4.71,0.45],[4.75,0.53],[4.79,0.38],[4.83,0.42],[4.87,0.49],[4.91,0.55],[4.95,0.62],[4.99,0.45],[4.50,0.51],[4.58,0.39],[4.62,0.27],[4.70,0.60],[4.74,0.47],[4.78,0.67],[4.82,0.34],[4.90,0.47],[4.94,0.29],[4.98,0.58],[4.55,0.43],[4.63,0.64],[4.67,0.54],[4.75,0.40],[4.83,0.61],[4.87,0.31],[4.95,0.51],[4.51,0.29],[4.60,0.55],[4.68,0.36],[4.76,0.58],[4.84,0.44],[4.92,0.34],[4.96,0.68],[4.72,0.30],[4.88,0.53],[4.57,0.35],[4.65,0.58],[4.81,0.39],[4.97,0.49],[4.69,0.22],
  [5.01,0.44],[5.04,0.30],[5.08,0.56],[5.12,0.67],[5.16,0.39],[5.20,0.50],[5.24,0.26],[5.28,0.59],[5.32,0.47],[5.36,0.35],[5.40,0.63],[5.44,0.41],[5.48,0.52],[5.03,0.58],[5.07,0.45],[5.11,0.32],[5.15,0.69],[5.19,0.42],[5.23,0.55],[5.27,0.27],[5.31,0.49],[5.35,0.61],[5.39,0.36],[5.43,0.46],[5.47,0.31],[5.02,0.37],[5.06,0.64],[5.10,0.23],[5.14,0.48],[5.18,0.40],[5.22,0.70],[5.26,0.34],[5.30,0.44],[5.34,0.54],[5.38,0.25],[5.42,0.58],[5.46,0.38],[5.05,0.51],[5.09,0.59],[5.13,0.46],[5.17,0.30],[5.21,0.44],[5.25,0.52],[5.29,0.37],[5.33,0.41],[5.37,0.48],[5.41,0.54],[5.45,0.60],[5.49,0.43],[5.00,0.49],[5.08,0.38],[5.12,0.26],[5.20,0.58],[5.24,0.45],[5.28,0.65],[5.32,0.33],[5.40,0.45],[5.44,0.28],[5.48,0.56],[5.05,0.41],[5.13,0.62],[5.17,0.52],[5.25,0.39],[5.33,0.59],[5.37,0.30],[5.45,0.50],[5.01,0.28],[5.10,0.53],[5.18,0.35],[5.26,0.56],[5.34,0.43],[5.42,0.33],[5.46,0.66],[5.22,0.29],[5.38,0.51],[5.07,0.34],[5.15,0.57],[5.31,0.38],[5.47,0.47],[5.19,0.21],[5.35,0.40],[5.43,0.53],[5.04,0.47],[5.28,0.42],[5.16,0.45],
  [5.51,0.52],[5.54,0.39],[5.58,0.47],[5.62,0.58],[5.66,0.30],[5.70,0.62],[5.74,0.44],[5.78,0.36],[5.82,0.55],[5.86,0.48],[5.90,0.33],[5.94,0.57],[5.98,0.41],[5.53,0.27],[5.57,0.50],[5.61,0.63],[5.65,0.43],[5.69,0.35],[5.73,0.46],[5.77,0.59],[5.81,0.38],[5.85,0.28],[5.89,0.52],[5.93,0.64],[5.97,0.45],[5.52,0.44],[5.56,0.35],[5.60,0.54],[5.64,0.61],[5.68,0.47],[5.72,0.32],[5.76,0.53],[5.80,0.67],[5.84,0.39],[5.88,0.44],[5.92,0.30],[5.96,0.56],[5.55,0.60],[5.59,0.41],[5.63,0.34],[5.67,0.56],[5.71,0.49],[5.75,0.26],[5.79,0.45],[5.83,0.51],[5.87,0.62],[5.91,0.40],[5.95,0.36],[5.99,0.50],[5.50,0.31],[5.58,0.63],[5.62,0.42],[5.70,0.37],[5.74,0.55],[5.78,0.48],[5.82,0.29],[5.90,0.58],[5.94,0.46],[5.98,0.34],[5.55,0.48],[5.63,0.53],[5.67,0.38],[5.75,0.65],[5.83,0.43],[5.87,0.37],[5.95,0.54],[5.51,0.57],[5.60,0.45],[5.68,0.58],[5.76,0.41],[5.84,0.60],[5.92,0.49],[5.96,0.42],[5.72,0.51],[5.88,0.31],[5.57,0.40],[5.65,0.25],[5.81,0.54],[5.97,0.59],[5.69,0.52],[5.85,0.45],[5.93,0.38],[5.54,0.66],[5.78,0.27],[5.66,0.49],
  [6.01,0.51],[6.04,0.37],[6.08,0.44],[6.12,0.60],[6.16,0.31],[6.20,0.56],[6.24,0.42],[6.28,0.49],[6.32,0.66],[6.36,0.29],[6.40,0.53],[6.44,0.38],[6.48,0.61],[6.03,0.34],[6.07,0.57],[6.11,0.46],[6.15,0.52],[6.19,0.27],[6.23,0.64],[6.27,0.41],[6.31,0.35],[6.35,0.48],[6.39,0.58],[6.43,0.32],[6.47,0.45],[6.02,0.62],[6.06,0.43],[6.10,0.50],[6.14,0.36],[6.18,0.67],[6.22,0.46],[6.26,0.24],[6.30,0.59],[6.34,0.40],[6.38,0.53],[6.42,0.44],[6.46,0.28],[6.05,0.39],[6.09,0.30],[6.13,0.55],[6.17,0.47],[6.21,0.36],[6.25,0.60],[6.29,0.43],[6.33,0.50],[6.37,0.41],[6.41,0.33],[6.45,0.47],[6.49,0.56],[6.00,0.36],[6.08,0.65],[6.12,0.41],[6.20,0.33],[6.24,0.53],[6.28,0.30],[6.32,0.45],[6.40,0.62],[6.44,0.50],[6.48,0.39],[6.05,0.56],[6.13,0.27],[6.17,0.40],[6.25,0.47],[6.33,0.35],[6.37,0.57],[6.45,0.37],[6.01,0.45],[6.10,0.40],[6.18,0.54],[6.26,0.39],[6.34,0.62],[6.42,0.52],[6.46,0.42],[6.22,0.57],[6.38,0.34],[6.07,0.49],[6.15,0.31],[6.31,0.55],[6.47,0.28],[6.19,0.48],[6.35,0.23],[6.43,0.44],[6.04,0.58],[6.28,0.52],[6.16,0.63],
  [6.53,0.52],[6.57,0.38],[6.52,0.65],[6.61,0.47],[6.66,0.29],[6.69,0.58],[6.73,0.43],[6.77,0.70],[6.81,0.35],[6.85,0.51],[6.89,0.62],[6.93,0.40],[6.97,0.27],[6.55,0.44],[6.59,0.61],[6.63,0.33],[6.67,0.49],[6.71,0.66],[6.75,0.37],[6.79,0.55],[6.83,0.45],[6.87,0.24],[6.91,0.59],[6.95,0.48],[6.99,0.36],[6.54,0.30],[6.58,0.56],[6.62,0.42],[6.66,0.68],[6.70,0.34],[6.74,0.50],[6.78,0.26],[6.82,0.60],[6.86,0.41],[6.90,0.53],[6.94,0.32],[6.98,0.64],[6.56,0.49],[6.60,0.35],[6.64,0.57],[6.68,0.44],[6.72,0.29],[6.76,0.47],[6.80,0.63],[6.84,0.38],[6.88,0.46],[6.92,0.54],[6.96,0.42],[6.51,0.40],[6.65,0.52],[6.73,0.57],[6.81,0.46],[6.89,0.33],[6.97,0.56],[6.57,0.67],[6.69,0.40],[6.77,0.31],[6.85,0.59],[6.93,0.50],[6.62,0.25],[6.74,0.62],[6.86,0.35],[6.98,0.44],[6.59,0.45],[6.71,0.52],[6.83,0.54],[6.95,0.38],[6.64,0.37],[6.76,0.41],[6.88,0.67],[6.52,0.58],[6.80,0.22],[6.68,0.61],[6.92,0.29],[6.56,0.34],[6.84,0.49],[6.96,0.60],[6.60,0.51],[6.72,0.45],[6.90,0.42],
  [7.02,0.48],[7.06,0.35],[7.10,0.60],[7.14,0.43],[7.18,0.28],[7.22,0.55],[7.26,0.41],[7.30,0.67],[7.34,0.33],[7.38,0.50],[7.42,0.59],[7.46,0.38],[7.03,0.26],[7.07,0.63],[7.11,0.45],[7.15,0.53],[7.19,0.36],[7.23,0.70],[7.27,0.47],[7.31,0.30],[7.35,0.56],[7.39,0.42],[7.43,0.25],[7.47,0.52],[7.01,0.40],[7.05,0.56],[7.09,0.31],[7.13,0.66],[7.17,0.49],[7.21,0.39],[7.25,0.61],[7.29,0.44],[7.33,0.53],[7.37,0.34],[7.41,0.46],[7.45,0.64],[7.49,0.41],[7.04,0.51],[7.08,0.43],[7.12,0.37],[7.16,0.58],[7.20,0.46],[7.24,0.32],[7.28,0.54],[7.32,0.40],[7.36,0.62],[7.40,0.36],[7.44,0.49],[7.48,0.29],[7.03,0.59],[7.11,0.52],[7.19,0.62],[7.27,0.37],[7.35,0.45],[7.43,0.55],[7.07,0.42],[7.15,0.27],[7.23,0.48],[7.31,0.58],[7.39,0.31],[7.47,0.44],[7.09,0.54],[7.21,0.50],[7.33,0.46],[7.45,0.33],[7.13,0.39],[7.25,0.23],[7.37,0.57],[7.17,0.65],[7.41,0.52],
  [7.52,0.46],[7.56,0.33],[7.60,0.57],[7.64,0.41],[7.68,0.28],[7.72,0.53],[7.76,0.39],[7.80,0.63],[7.84,0.32],[7.88,0.48],[7.92,0.56],[7.96,0.37],[8.00,0.52],[8.04,0.43],[8.08,0.29],[8.12,0.58],[8.16,0.40],[7.54,0.60],[7.58,0.44],[7.62,0.51],[7.66,0.35],[7.70,0.66],[7.74,0.45],[7.78,0.30],[7.82,0.54],[7.86,0.41],[7.90,0.24],[7.94,0.50],[7.98,0.61],[8.02,0.34],[8.06,0.55],[8.10,0.45],[8.14,0.31],[8.18,0.49],[7.51,0.37],[7.55,0.53],[7.59,0.30],[7.63,0.62],[7.67,0.47],[7.71,0.38],[7.75,0.57],[7.79,0.42],[7.83,0.50],[7.87,0.33],[7.91,0.44],[7.95,0.59],[7.99,0.40],[8.03,0.48],[8.07,0.36],[8.11,0.52],[8.15,0.63],[8.19,0.38],[7.57,0.49],[7.65,0.56],[7.73,0.26],[7.81,0.46],[7.89,0.60],[7.97,0.28],[8.05,0.64],[8.13,0.47],[7.61,0.40],[7.77,0.51],[7.93,0.35],[8.09,0.42],[8.17,0.55]
];

var highExprGenes = [
  [8.86,0.997],[8.61,0.950],[9.86,0.971],[10.59,0.967],[11.57,0.974],[10.17,0.939],[10.33,0.904],[10.74,0.907],[11.07,0.906],[9.78,0.912],[10.40,0.874],[12.05,0.838],[12.34,0.837],[11.86,0.789],[13.61,0.724],[11.37,0.729],[11.06,0.722],[10.89,0.722],[12.17,0.697],[11.43,0.676],[11.16,0.691],[10.86,0.648],[10.81,0.670],[12.32,0.567],[11.78,0.533],[10.87,0.528],[11.03,0.589],[11.20,0.572],[11.83,0.473],[12.10,0.469],[11.44,0.425],[10.67,0.431],[10.75,0.373],[10.96,0.373],[13.48,0.331],[10.56,0.320],[10.44,0.352],[11.29,0.264],[11.36,0.270],[11.37,0.204],[10.24,0.292],[10.22,0.212],[10.27,0.095],[10.59,0.533],[10.53,0.488],[10.37,0.452],[10.19,0.380],[10.38,0.542],[10.38,0.531],[10.29,0.493],[10.29,0.478],[10.34,0.507],[10.56,0.628],[10.60,0.612],[10.53,0.622],[10.66,0.682],[10.62,0.667],[10.41,0.714],[10.39,0.722],[10.51,0.697],[10.57,0.738],[10.65,0.703],[10.61,0.766],[10.63,0.781],[10.80,0.761],[10.23,0.821],[10.39,0.626],[10.27,0.656],[10.21,0.699],[10.17,0.661],[10.08,0.678],[10.09,0.598],[10.13,0.531],[10.19,0.537],[10.20,0.505],[10.35,0.506],[10.13,0.441],[10.18,0.442],[10.02,0.365],[9.92,0.821],[9.93,0.849],[9.89,0.866],[10.05,0.785],[10.13,0.782],[10.03,0.761],[10.06,0.744],[9.81,0.728],[9.92,0.679],[9.80,0.663],[9.69,0.641],[9.69,0.633],[9.73,0.602],[9.79,0.606],[9.83,0.607],[9.88,0.615],[9.96,0.612],[9.59,0.573],[9.66,0.571],[9.47,0.599],[9.52,0.696],[9.55,0.698],[9.32,0.701],[9.40,0.700],[9.33,0.682],[9.35,0.661],[9.61,0.849],[9.54,0.862],[9.51,0.822],[9.50,0.805],[9.28,0.869],[9.25,0.819],[9.26,0.784],[9.28,0.769],[9.04,0.851],[8.81,0.849],[8.73,0.897],[8.76,0.889],[8.62,0.808],[8.80,0.804],[8.84,0.823],[8.93,0.819],[8.98,0.815],[8.99,0.799],[8.73,0.778],[8.66,0.752],[8.69,0.758],[8.91,0.754],[8.95,0.770],[9.04,0.725],[8.98,0.716],[8.70,0.724],[8.84,0.691],[9.05,0.686],[9.02,0.671],[9.09,0.670],[8.87,0.674],[8.54,0.683],[8.56,0.665],[8.74,0.654],[8.79,0.650],[8.71,0.645],[8.78,0.639],[8.75,0.633],[8.95,0.639],[9.03,0.635],[9.07,0.629],[8.89,0.613],[8.90,0.610],[8.86,0.612],[8.68,0.624],[8.62,0.616],[8.68,0.610],[8.54,0.585],[8.59,0.582],[8.65,0.585],[8.73,0.585],[8.79,0.582],[8.57,0.557],[8.62,0.553],[8.67,0.565],[8.81,0.542],[8.89,0.554],[8.95,0.589],[9.03,0.574],[9.10,0.548],[9.14,0.556],[9.20,0.559],[9.22,0.598],[9.10,0.602],[9.23,0.548],[9.25,0.540],[9.33,0.540],[9.38,0.544],[9.44,0.553],[9.31,0.565],[9.16,0.521],[9.20,0.522],[9.06,0.522],[8.93,0.516],[8.89,0.521],[8.71,0.528],[8.80,0.522],[9.49,0.522],[9.48,0.507],[9.49,0.498],[9.27,0.501],[9.65,0.490],[9.73,0.487],[9.81,0.505],[9.86,0.508],[9.83,0.496],[9.93,0.548],[9.89,0.540],[9.97,0.550],[9.84,0.557],[9.86,0.568],[9.54,0.493],[9.54,0.472],[9.63,0.469],[9.46,0.478],[9.47,0.464],[9.73,0.469],[9.80,0.475],[9.31,0.472],[9.39,0.483],[9.16,0.446],[9.11,0.469],[9.17,0.487],[9.10,0.487],[8.98,0.464],[8.90,0.475],[8.84,0.460],[8.76,0.440],[8.71,0.434],[8.66,0.469],[8.62,0.458],[8.59,0.414],[8.65,0.406],[8.74,0.409],[8.81,0.411],[8.87,0.411],[8.90,0.393],[8.92,0.376],[8.83,0.376],[8.78,0.367],[8.70,0.370],[8.59,0.370],[8.56,0.337],[8.59,0.334],[8.74,0.341],[8.81,0.341],[8.82,0.333],[8.61,0.301],[8.71,0.289],[8.76,0.294],[8.83,0.305],[9.07,0.357],[9.11,0.341],[9.12,0.333],[9.19,0.350],[9.23,0.396],[9.26,0.367],[9.15,0.388],[9.21,0.406],[9.28,0.414],[9.33,0.423],[9.41,0.418],[9.48,0.404],[9.53,0.369],[9.39,0.336],[9.48,0.333],[9.58,0.336],[9.63,0.347],[9.66,0.420],[9.70,0.429],[9.80,0.431],[9.82,0.392],[9.73,0.391],[9.99,0.336],[9.93,0.333],[9.90,0.320],[9.84,0.312],[9.82,0.309],[9.70,0.297],[9.32,0.305],[9.13,0.312],[9.06,0.320],[9.23,0.269],[9.32,0.256],[9.40,0.250],[9.62,0.245],[9.79,0.253],[8.94,0.258],[8.98,0.248],[8.78,0.263],[8.65,0.259],[8.70,0.221],[8.87,0.219],[8.89,0.213],[8.75,0.201],[8.81,0.182],[8.54,0.204],[9.07,0.219],[9.11,0.222],[9.04,0.210],[9.41,0.219],[9.48,0.205],[9.72,0.201],[9.90,0.187],[9.28,0.190],[9.25,0.149],[8.75,0.157],[8.58,0.128],[8.60,0.096],[9.17,0.376],[9.10,0.367],[9.06,0.350],[10.15,0.533],[10.20,0.526],[10.10,0.528]
];

// sparse genes with large residual variance (upper part of the cloud)
var upperGenes = [
  [0.89,2.04],[2.55,2.08],[2.26,2.01],[0.27,1.80],[0.50,1.78],[-0.41,1.68],[0.45,1.66],[1.05,1.63],[3.04,1.68],[2.85,1.63],[5.07,1.60],[-0.72,1.55],[-0.42,1.55],[0.27,1.57],[0.37,1.55],[-0.66,1.50],[-1.04,1.47],[0.13,1.51],[-0.25,1.48],[-0.41,1.44],[3.04,1.53],[3.07,1.44],[3.27,1.46],[1.94,1.51],[1.89,1.45],[1.51,1.49],[1.23,1.47],[0.66,1.46],[0.72,1.46],[2.29,1.45],[2.34,1.45],[3.84,1.49],[4.66,1.42],[5.58,1.42],[5.04,1.37],[0.10,1.43],[-0.12,1.40],[-0.04,1.38],[-0.19,1.37],
  [0.20,1.41],[0.29,1.37],[0.23,1.34],[0.53,1.41],[0.53,1.35],[0.53,1.33],[0.46,1.33],[0.61,1.32],[0.38,1.30],[0.41,1.30],[0.91,1.42],[0.95,1.39],[0.93,1.38],[1.02,1.36],[1.11,1.38],[1.18,1.39],[1.18,1.36],[1.06,1.35],[1.08,1.35],[0.95,1.33],[1.01,1.32],[1.08,1.32],[0.78,1.34],[0.73,1.29],[0.82,1.30],[0.66,1.21],[1.37,1.38],[1.40,1.37],[1.42,1.36],[1.42,1.33],[1.31,1.29],[1.69,1.30],[1.60,1.27],[1.51,1.26],[1.80,1.24],[1.86,1.31],[1.29,1.26],[1.24,1.24],[1.16,1.24],[-0.12,1.31],[-0.15,1.27],[-0.01,1.26],[-0.19,1.23],[-0.06,1.24],[0.11,1.24],[-0.63,1.24],[0.34,1.27],[0.33,1.23],[0.42,1.24],
  [1.77,1.39],[1.70,1.35],[2.08,1.37],[2.30,1.35],[2.43,1.35],[2.30,1.31],[2.56,1.32],[2.85,1.32],[2.75,1.30],[2.92,1.29],[2.77,1.23],[3.04,1.27],[3.15,1.26],[3.24,1.32],[3.38,1.30],[3.42,1.28],[3.57,1.38],[3.66,1.39],[3.94,1.33],[4.03,1.33],[4.10,1.33],[4.07,1.28],[4.28,1.27],[4.47,1.26],[4.62,1.30],[4.91,1.28],[4.53,1.23],[4.20,1.22],[4.25,1.21],[3.76,1.23],[3.68,1.20],[3.65,1.17],[3.79,1.19],[3.88,1.18],[3.94,1.17],[4.04,1.17],[4.08,1.16],[3.93,1.15],[4.00,1.20],[4.30,1.17],[4.36,1.17],[4.61,1.19],[4.69,1.19],[4.76,1.19],[4.89,1.21],[5.00,1.16],[5.13,1.15],[5.26,1.18],[5.31,1.20],[5.35,1.23],[5.39,1.15],[5.54,1.19],[5.53,1.24],[5.61,1.25],[5.68,1.16],[5.81,1.23],[5.88,1.12],
  [6.42,1.55],[6.13,1.44],[7.06,1.43],[8.61,1.44],[6.68,1.32],[7.06,1.31],[6.15,1.29],[6.39,1.25],[7.69,1.23],[7.87,1.24],[11.82,1.24],[6.34,1.19],[10.38,1.12],[10.40,1.10],[10.72,1.13],[12.79,1.03],
  [6.12,1.138],[6.34,1.136],[6.39,1.125],[7.07,1.140],[7.15,1.148],[7.22,1.119],[7.76,1.131],[8.01,1.126],[7.85,1.089],[8.45,1.077],[8.15,1.045],[7.63,1.054],[6.70,1.082],[7.24,1.070],[7.27,1.081],[5.91,1.096],[6.06,1.081],[6.20,1.092],[6.19,1.075],[6.29,1.099],[6.33,1.037],[5.84,1.031],[6.00,1.031],[6.70,1.012],[6.81,1.017],[6.74,1.029],[7.09,1.003],[7.24,1.017],[7.40,0.997],[7.43,1.012],[7.72,1.008],[8.01,1.017],[5.68,1.162],[5.71,1.079],[5.75,1.052],[5.82,1.003],[6.09,1.003],[6.45,0.988],
  [2.86,1.11],[3.02,1.09],[3.15,1.10],[3.55,1.09],[3.54,1.08],[3.71,1.12],[3.79,1.10],[3.84,1.10],[3.92,1.08],[4.03,1.09],[4.12,1.09],[4.30,1.11],[4.36,1.12],[4.41,1.12],[4.52,1.09],[4.70,1.13],[4.68,1.11],[4.79,1.10],[4.89,1.11],[4.97,1.11],[5.05,1.11],[5.47,1.08],[2.90,1.06],[3.14,1.05],[3.33,1.05],[2.98,1.04],[3.54,1.05],[3.67,1.04],[3.86,1.05],[3.96,1.05],[4.10,1.06],[4.24,1.05],[4.39,1.05],[4.49,1.05],[4.57,1.05],[4.73,1.06],[4.83,1.05],[4.98,1.06],[5.09,1.04],[5.23,1.02],[5.34,1.05],[5.42,1.03],[5.60,1.02],[6.48,0.989],[6.56,0.983],[6.95,0.983],
  [7.55,0.98],[7.76,0.97],[8.04,0.98],[8.33,0.96],[8.44,0.92],[8.28,0.87],[8.25,0.86],[7.76,0.94],[7.87,0.91],[7.61,0.91],[7.40,0.84],[7.55,0.85],[7.76,0.85],[8.06,0.80],[8.22,0.81],[8.33,0.80],[8.43,0.81]
];

// sparse genes along the bottom edge of the cloud
var lowerEdgeGenes = [
  [2.02,0.083],[2.88,0.091],[3.45,0.083],[3.67,0.083],[3.94,0.068],[4.10,0.073],[4.65,0.075],[4.72,0.098],[5.05,0.080],[5.67,0.059],[5.76,0.073],[6.74,0.083],[6.78,0.096],[7.61,0.079],[8.07,0.064],[1.72,0.161],[2.17,0.125],[2.75,0.134],[1.10,0.246],[1.32,0.231],[2.02,0.180],[2.34,0.175],[2.61,0.159],[2.80,0.176],[3.09,0.166],[3.35,0.134],[3.43,0.110],[3.62,0.155],[3.80,0.178],[4.02,0.134],[4.25,0.137],[4.44,0.155],[4.57,0.152],[4.81,0.137],[4.94,0.149],[5.15,0.110],[5.27,0.122],[5.37,0.102],[5.43,0.096],[5.52,0.099],[5.66,0.110],[5.74,0.087],[5.87,0.114],[6.11,0.108],[6.22,0.114],[6.36,0.149],[6.63,0.120],[6.79,0.099],[6.90,0.114],[7.19,0.126],[7.35,0.110],[7.42,0.106],[7.75,0.149],[7.85,0.143],[7.96,0.131],[8.30,0.137],[8.28,0.161],[8.44,0.173],
  [-0.48,0.13],[-0.34,0.16],[0.15,0.15],[0.61,0.18],[0.72,0.18],[0.73,0.14],[-0.72,0.22],[-0.19,0.18]
];

// no gene was flagged as an outlier
var outlierGenes = [];

// fitted trend of sqrt(sigma) against average log-expression
var trendX = [-1.30, 0, 1, 2, 3, 4, 5, 6, 7, 8, 8.54, 9, 10, 11, 12, 13, 13.62];
var trendY = [0.790, 0.738, 0.698, 0.659, 0.619, 0.572, 0.528, 0.500, 0.490, 0.494, 0.505, 0.517, 0.540, 0.569, 0.601, 0.630, 0.648];

var FONT = '"Liberation Sans", Arial, Helvetica, sans-serif';

function toPoints(list) {
  return list.map(function(p) { return { x: p[0], y: p[1] }; });
}

var normalPoints = toPoints([].concat(lowExprGenes, lowExprBody, midExprGenes, coreExprGenes, coreBody, highExprGenes, upperGenes, lowerEdgeGenes));
var trendPoints = trendX.map(function(x, i) { return { x: x, y: trendY[i] }; });

// box around the plot region + legend in the top right corner, like base R graphics
var frameAndLegend = {
  id: 'frameAndLegend',
  afterDraw: function(chart) {
    var ctx = chart.ctx;
    var a = chart.chartArea;
    ctx.save();
    ctx.strokeStyle = '#000';
    ctx.lineWidth = 1.5;
    ctx.strokeRect(a.left, a.top, a.right - a.left, a.bottom - a.top);

    var w = 137, h = 89;
    var lx = a.right - w, ly = a.top;
    ctx.fillStyle = '#fff';
    ctx.fillRect(lx, ly, w, h);
    ctx.strokeRect(lx, ly, w, h);

    var items = chart.data.datasets.filter(function(d) { return d.type !== 'line'; });
    ctx.font = '24px ' + FONT;
    ctx.textBaseline = 'middle';
    ctx.textAlign = 'left';
    items.forEach(function(d, i) {
      var cy = ly + 31 + i * 30;
      ctx.fillStyle = d.backgroundColor;
      ctx.beginPath();
      ctx.arc(lx + 22, cy, 4.5, 0, Math.PI * 2);
      ctx.fill();
      ctx.fillStyle = '#000';
      ctx.fillText(d.label, lx + 45, cy + 1);
    });
    ctx.restore();
  }
};

var ctx = document.getElementById('saPlot').getContext('2d');

var saChart = new Chart(ctx, {
  type: 'scatter',
  data: {
    datasets: [
      {
        label: 'Normal',
        data: normalPoints,
        backgroundColor: '#000000',
        borderWidth: 0,
        pointRadius: 1.5,
        pointHoverRadius: 1.5,
        order: 2
      },
      {
        label: 'Outlier',
        data: toPoints(outlierGenes),
        backgroundColor: '#FF0000',
        borderWidth: 0,
        pointRadius: 1.5,
        order: 1
      },
      {
        type: 'line',
        label: 'trend',
        data: trendPoints,
        borderColor: '#0000FF',
        borderWidth: 1.5,
        pointRadius: 0,
        fill: false,
        cubicInterpolationMode: 'monotone',
        order: 0
      }
    ]
  },
  options: {
    responsive: false,
    animation: false,
    events: [],
    layout: { padding: { top: 123, right: 63, left: 0, bottom: 0 } },
    plugins: {
      legend: { display: false },
      tooltip: { enabled: false }
    },
    scales: {
      x: {
        type: 'linear',
        min: -1.87,
        max: 14.17,
        afterFit: function(s) { s.height = 155; },
        afterBuildTicks: function(s) { s.ticks = xTicks.map(function(v) { return { value: v }; }); },
        grid: { drawOnChartArea: false, drawTicks: true, tickLength: 15, color: '#000', tickColor: '#000', lineWidth: 1 },
        border: { display: false },
        ticks: {
          color: '#000',
          font: { family: FONT, size: 23 },
          padding: 18,
          maxRotation: 0,
          autoSkip: false,
          callback: function(v) { return String(v); }
        },
        title: {
          display: true,
          text: 'Average log-expression',
          color: '#000',
          font: { family: FONT, size: 24 },
          padding: { top: 0, bottom: 33 }
        }
      },
      y: {
        type: 'linear',
        min: -0.014,
        max: 2.161,
        afterFit: function(s) { s.width = 124; },
        afterBuildTicks: function(s) { s.ticks = yTicks.map(function(v) { return { value: v }; }); },
        grid: { drawOnChartArea: false, drawTicks: true, tickLength: 15, color: '#000', tickColor: '#000', lineWidth: 1 },
        border: { display: false },
        ticks: {
          color: '#000',
          font: { family: FONT, size: 23 },
          padding: 5,
          minRotation: 90,
          maxRotation: 90,
          crossAlign: 'center',
          autoSkip: false,
          callback: function(v) { return v.toFixed(1); }
        },
        title: {
          display: true,
          text: 'sqrt(sigma)',
          color: '#000',
          font: { family: FONT, size: 24 },
          padding: { top: 16, bottom: 0 }
        }
      }
    }
  },
  plugins: [frameAndLegend]
});
</script>
</body>
</html>
